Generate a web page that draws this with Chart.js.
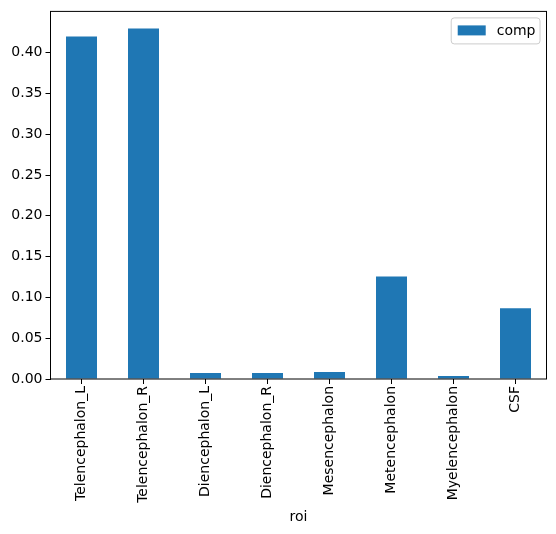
<!DOCTYPE html>
<html>
<head>
<meta charset="utf-8">
<script src="https://cdn.jsdelivr.net/npm/chart.js@4.4.0/dist/chart.umd.min.js"></script>
<style>
html,body{margin:0;padding:0;background:#fff;}
#wrap{width:556px;height:534px;}
</style>
</head>
<body>
<div id="wrap"><canvas id="c" width="556" height="534"></canvas></div>
<script>
const categories = ["Telencephalon_L","Telencephalon_R","Diencephalon_L","Diencephalon_R","Mesencephalon","Metencephalon","Myelencephalon","CSF"];
const compValues = [0.4198, 0.4296, 0.0073, 0.0073, 0.0085, 0.1256, 0.0037, 0.0866];
const yTicks = [0.00,0.05,0.10,0.15,0.20,0.25,0.30,0.35,0.40];
const seriesName = "comp";
const xTitle = "roi";

const FONT = "'DejaVu Sans', sans-serif";
const BLUE = "#1f77b4";

const frame = {
  id: 'frame',
  afterDraw(chart) {
    const {ctx, chartArea: a} = chart;
    ctx.save();
    ctx.strokeStyle = '#000';
    ctx.lineWidth = 1;
    ctx.strokeRect(a.left, a.top, a.right - a.left, a.bottom - a.top);
    // legend inside plot (upper right)
    const ds = chart.data.datasets[0];
    ctx.font = "14px " + FONT;
    const tw = ctx.measureText(ds.label).width;
    const bw = 28 + 8 + tw + 10 + 4;
    const bh = 26;
    const bx = a.right - 7 - bw, by = a.top + 6;
    ctx.beginPath();
    if (ctx.roundRect) ctx.roundRect(bx + 0.5, by + 0.5, bw, bh, 3); else ctx.rect(bx + 0.5, by + 0.5, bw, bh);
    ctx.fillStyle = 'rgba(255,255,255,0.8)';
    ctx.fill();
    ctx.strokeStyle = '#cccccc';
    ctx.stroke();
    ctx.fillStyle = ds.backgroundColor;
    ctx.fillRect(bx + 7, by + 8, 28, 10);
    ctx.fillStyle = '#000';
    ctx.textBaseline = 'middle';
    ctx.textAlign = 'left';
    ctx.fillText(ds.label, bx + 46, by + bh / 2 + 1);
    ctx.restore();
  }
};

new Chart(document.getElementById('c'), {
  type: 'bar',
  data: {
    labels: categories,
    datasets: [{
      label: seriesName,
      data: compValues,
      backgroundColor: BLUE,
      borderWidth: 0,
      categoryPercentage: 1.0,
      barPercentage: 0.5
    }]
  },
  options: {
    responsive: false,
    devicePixelRatio: 1,
    animation: false,
    layout: { padding: { top: 9.5, right: 9.5, left: 0, bottom: 0 } },
    plugins: { legend: { display: false }, tooltip: { enabled: false } },
    scales: {
      x: {
        offset: true,
        grid: { display: true, offset: false, drawOnChartArea: false, drawTicks: true, tickLength: 5, color: '#000', tickWidth: 1 },
        border: { display: false },
        ticks: {
          color: '#000', font: { family: FONT, size: 14 },
          minRotation: 90, maxRotation: 90, padding: 2, autoSkip: false
        },
        title: { display: true, text: xTitle, color: '#000', font: { family: FONT, size: 14 }, padding: { top: 0, bottom: 8.6 } },
        afterFit(s) { s.height = 155; }
      },
      y: {
        min: 0,
        max: 0.4506,
        afterBuildTicks(s) { s.ticks = yTicks.map(v => ({ value: v })); },
        grid: { display: true, drawOnChartArea: false, drawTicks: true, tickLength: 5, color: '#000', tickWidth: 1 },
        border: { display: false },
        ticks: {
          color: '#000', font: { family: FONT, size: 14 }, padding: 3,
          callback: v => Number(v).toFixed(2)
        },
        afterFit(s) { s.width = 50.5; }
      }
    }
  },
  plugins: [frame]
});
</script>
</body>
</html>
